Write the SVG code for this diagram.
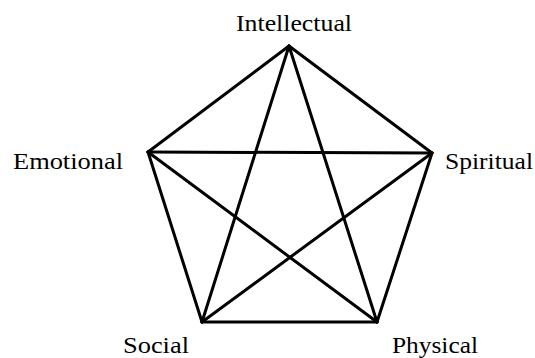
<svg xmlns="http://www.w3.org/2000/svg" width="535" height="358" viewBox="0 0 535 358">
<style>
.lbl{font-family:"Liberation Serif","Times New Roman",serif;font-size:24px;fill:#000}
.e{stroke:#000;stroke-width:3;fill:none;stroke-linecap:round}
</style>
<rect width="535" height="358" fill="#fff"/>
<g id="connectors">
<line class="e" x1="289" y1="46" x2="148" y2="152"/>
<line class="e" x1="289" y1="46" x2="432" y2="153"/>
<line class="e" x1="148" y1="152" x2="202" y2="322"/>
<line class="e" x1="432" y1="153" x2="377" y2="322"/>
<line class="e" x1="202" y1="322" x2="377" y2="322"/>
<line class="e" x1="148" y1="152" x2="432" y2="153"/>
<line class="e" x1="289" y1="46" x2="202" y2="322"/>
<line class="e" x1="289" y1="46" x2="377" y2="322"/>
<line class="e" x1="148" y1="152" x2="377" y2="322"/>
<line class="e" x1="432" y1="153" x2="202" y2="322"/>
</g>
<g id="intellectual"><text class="lbl" x="236" y="31" textLength="116" lengthAdjust="spacingAndGlyphs">Intellectual</text></g>
<g id="emotional"><text class="lbl" x="13" y="169" textLength="110" lengthAdjust="spacingAndGlyphs">Emotional</text></g>
<g id="spiritual"><text class="lbl" x="445" y="169" textLength="88" lengthAdjust="spacingAndGlyphs">Spiritual</text></g>
<g id="social"><text class="lbl" x="123" y="353" textLength="66" lengthAdjust="spacingAndGlyphs">Social</text></g>
<g id="physical"><text class="lbl" x="392" y="353" textLength="86" lengthAdjust="spacingAndGlyphs">Physical</text></g>
</svg>
